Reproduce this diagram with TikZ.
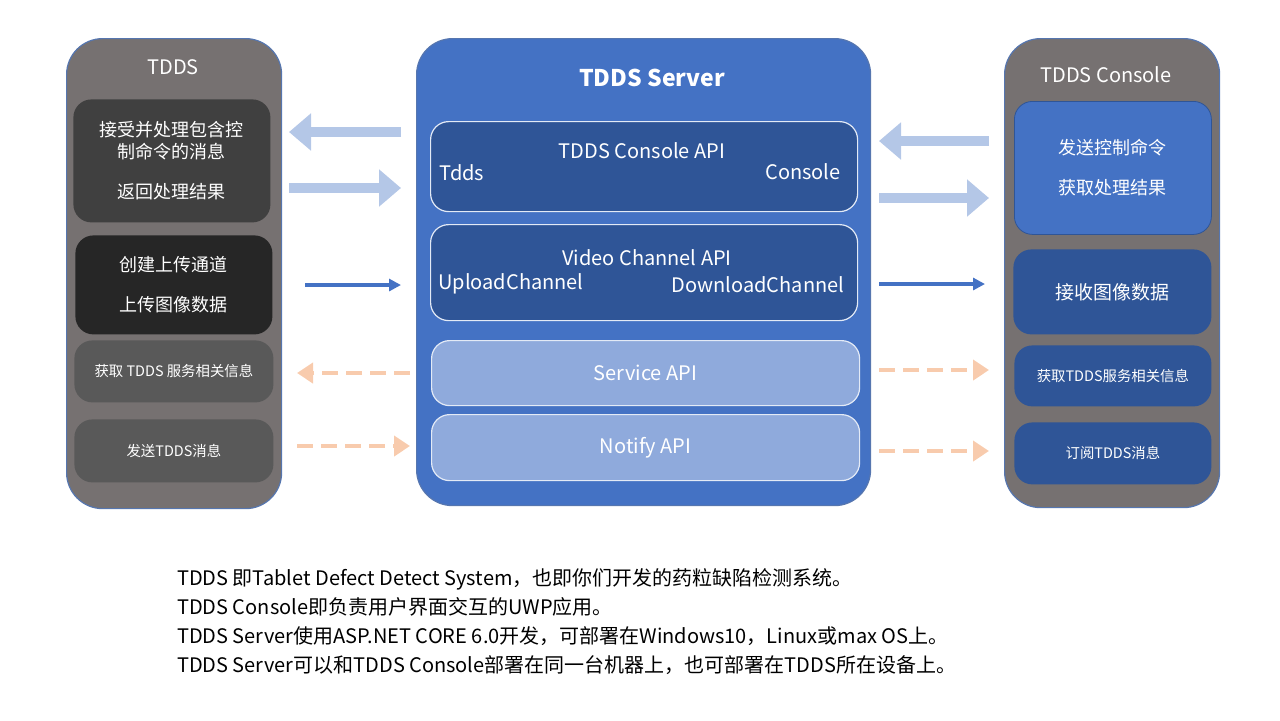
\documentclass[tikz,border=0pt]{standalone}
\usepackage{fontspec}
\setmainfont{Noto Sans CJK SC}
\usetikzlibrary{arrows.meta}
\definecolor{panelgray}{HTML}{767171}
\definecolor{srvblue}{HTML}{4472C4}
\definecolor{apiblue}{HTML}{2F5597}
\definecolor{apilight}{HTML}{8FAADC}
\definecolor{arrlight}{HTML}{B4C7E7}
\definecolor{arrpeach}{HTML}{F8CBAD}
\tikzset{
  panel/.style={draw=srvblue!70!gray, line width=0.6pt, rounded corners=18pt, anchor=north west},
  box/.style={rounded corners=9pt, anchor=north west, text=white, align=center},
  apibox/.style={box, draw=white!85!srvblue, line width=0.6pt},
  wide/.style={-{Triangle[length=11pt,width=18pt]}, line width=5pt, arrlight},
  data/.style={-{Triangle[length=6pt,width=6pt]}, line width=1.6pt, srvblue},
  info/.style={-{Triangle[length=8pt,width=10pt]}, line width=2pt, arrpeach, dash pattern=on 8pt off 4pt},
  lbl/.style={text=white, font=\fontsize{10}{12}\selectfont}
}
\begin{document}
\begin{tikzpicture}[x=0.5pt,y=-0.5pt]
		\useasboundingbox (0,0) rectangle (1280,720);

		% Panels
		\node[panel, fill=panelgray, minimum width=107.5pt, minimum height=235pt] (tdds) at (66,38) {};
		\node[panel, fill=srvblue, minimum width=227pt, minimum height=233.5pt] (server) at (416,38) {};
		\node[panel, fill=panelgray, minimum width=107.5pt, minimum height=234.5pt] (console) at (1004,38) {};
		\node[lbl] (tddsT) at (173,67) {TDDS};
		\node[lbl, font=\bfseries\fontsize{11.5}{13}\selectfont] (serverT) at (652,78) {TDDS Server};
		\node[lbl] (consoleT) at (1106,75) {TDDS Console};

		% TDDS boxes
		\node[box, fill=black!75, minimum width=98.5pt, minimum height=61.5pt, font=\fontsize{9}{11}\selectfont] (ctl) at (73,99)
			{接受并处理包含控\\制命令的消息\\[9pt]返回处理结果};
		\node[box, fill=black!85, minimum width=98.5pt, minimum height=49.5pt, font=\fontsize{9}{11}\selectfont] (up) at (75,235)
			{创建上传通道\\[9pt]上传图像数据};
		\node[box, fill=black!65, minimum width=99.5pt, minimum height=31pt, font=\fontsize{7.2}{9}\selectfont] (getL) at (74,340) {获取 TDDS 服务相关信息};
		\node[box, fill=black!65, minimum width=99.5pt, minimum height=31.5pt, font=\fontsize{7.2}{9}\selectfont] (sendL) at (74,419) {发送TDDS消息};

		% Server APIs
		\node[apibox, fill=apiblue, minimum width=213.5pt, minimum height=45pt] (capi) at (430,121) {};
		\node[lbl] at (642,151) {TDDS Console API};
		\node[lbl] at (462,173) {Tdds};
		\node[lbl] at (803,172) {Console};
		\node[apibox, fill=apiblue, minimum width=213.5pt, minimum height=48pt] (vapi) at (430,224) {};
		\node[lbl] at (647,258) {Video Channel API};
		\node[lbl] at (511,284) {UploadChannel};
		\node[lbl] at (758,285) {DownloadChannel};
		\node[apibox, fill=apilight, minimum width=214pt, minimum height=32.5pt, font=\fontsize{10}{12}\selectfont] (sapi) at (431,340) {Service API};
		\node[apibox, fill=apilight, minimum width=214pt, minimum height=33pt, font=\fontsize{10}{12}\selectfont] (napi) at (431,414) {Notify API};

		% Console boxes
		\node[box, fill=srvblue, draw=apiblue, minimum width=98.5pt, minimum height=66.5pt, font=\fontsize{9}{11}\selectfont] (cmd) at (1014,101)
			{发送控制命令\\[9pt]获取处理结果};
		\node[box, fill=apiblue, minimum width=99pt, minimum height=42.5pt, font=\fontsize{9.5}{11}\selectfont] (recv) at (1013,249) {接收图像数据};
		\node[box, fill=apiblue, minimum width=98.5pt, minimum height=30.5pt, font=\fontsize{7.2}{9}\selectfont] (getR) at (1014,345) {获取TDDS服务相关信息};
		\node[box, fill=apiblue, minimum width=98.5pt, minimum height=31pt, font=\fontsize{7.2}{9}\selectfont] (sub) at (1014,422) {订阅TDDS消息};

		% Arrow ends
		\coordinate (a1) at (401,132); \coordinate (a2) at (289,132);
		\coordinate (a3) at (289,188); \coordinate (a4) at (401,188);
		\coordinate (a5) at (989,141); \coordinate (a6) at (879,141);
		\coordinate (a7) at (879,198); \coordinate (a8) at (989,198);
		\coordinate (b1) at (305,285); \coordinate (b2) at (401,285);
		\coordinate (b3) at (879,284); \coordinate (b4) at (985,284);
		\coordinate (d1) at (410,373); \coordinate (d2) at (297,373);
		\coordinate (d3) at (297,446); \coordinate (d4) at (410,446);
		\coordinate (d5) at (879,370); \coordinate (d6) at (989,370);
		\coordinate (d7) at (879,451); \coordinate (d8) at (989,451);

		% Arrows
		\draw[wide] (a1) -- (a2);
		\draw[wide] (a3) -- (a4);
		\draw[wide] (a5) -- (a6);
		\draw[wide] (a7) -- (a8);
		\draw[data] (b1) -- (b2);
		\draw[data] (b3) -- (b4);
		\draw[info] (d1) -- (d2);
		\draw[info] (d3) -- (d4);
		\draw[info] (d5) -- (d6);
		\draw[info] (d7) -- (d8);

		% Notes
		\node[anchor=west, align=left, font=\fontsize{10}{14.5}\selectfont] (notes) at (170,622)
			{TDDS 即Tablet Defect Detect System，也即你们开发的药粒缺陷检测系统。\\
			TDDS Console即负责用户界面交互的UWP应用。\\
			TDDS Server使用ASP.NET CORE 6.0开发，可部署在Windows10，Linux或max OS上。\\
			TDDS Server可以和TDDS Console部署在同一台机器上，也可部署在TDDS所在设备上。};
	\end{tikzpicture}
\end{document}
